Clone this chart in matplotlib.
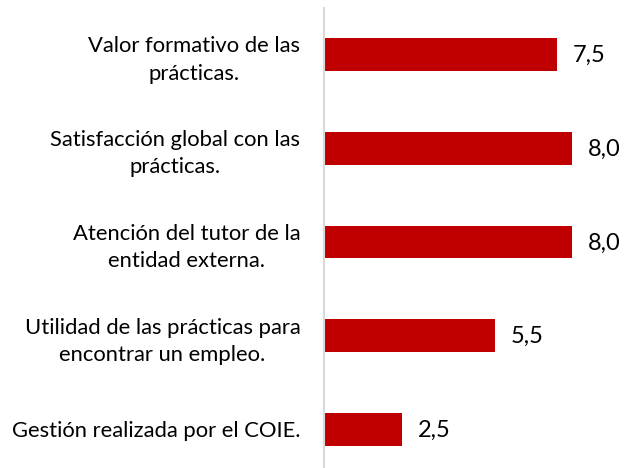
import matplotlib
matplotlib.use("Agg")
import matplotlib.pyplot as plt

categories = [
    "Valor formativo de las\nprácticas.",
    "Satisfacción global con las\nprácticas.",
    "Atención del tutor de la\nentidad externa.",
    "Utilidad de las prácticas para\nencontrar un empleo.",
    "Gestión realizada por el COIE.",
]
values = [7.5, 8.0, 8.0, 5.5, 2.5]
value_labels = ["7,5", "8,0", "8,0", "5,5", "2,5"]

plt.rcParams['font.family'] = ['Lato', 'DejaVu Sans']

W, H = 631, 468
fig = plt.figure(figsize=(W / 100, H / 100), dpi=100)
left = 324 / W
top_px = 7.6
height_px = 5 * 93.75
ax = fig.add_axes([left, 1 - (top_px + height_px) / H, 1 - left, height_px / H])

ypos = list(range(len(categories)))
ax.barh(ypos, values, height=0.35, color="#C00000", zorder=2)
ax.set_xlim(0, 9.9)
ax.set_ylim(len(categories) - 0.5, -0.5)
ax.set_yticks(ypos)
ax.set_yticklabels(categories, fontsize=15.8, color="#000000", multialignment="center",
                   linespacing=1.45)
ax.tick_params(axis="y", length=0, pad=17)
ax.set_xticks([])
for s in ["top", "right", "bottom"]:
    ax.spines[s].set_visible(False)
ax.spines["left"].set_color("#D9D9D9")
ax.spines["left"].set_linewidth(1.5)

for y, v, lab in zip(ypos, values, value_labels):
    ax.annotate(lab, xy=(v, y), xytext=(16, -1), textcoords="offset pixels",
                va="center", ha="left", fontsize=17, color="#000000")

fig.savefig("out.png", dpi=100)
